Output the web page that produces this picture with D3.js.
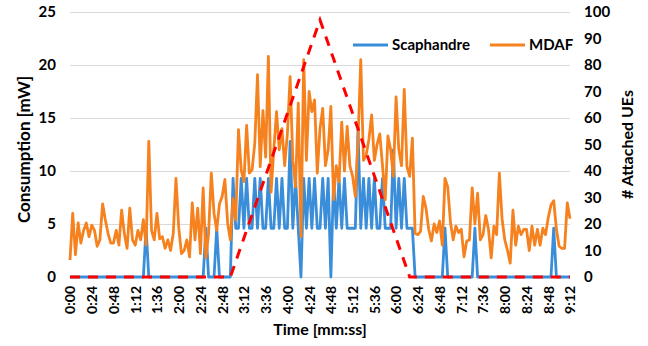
<!DOCTYPE html>
<html>
<head>
<meta charset="utf-8">
<script src="https://cdn.jsdelivr.net/npm/d3@7"></script>
<style>
  body { margin: 0; background: #fff; }
  text { font-family: Lato, "Open Sans", sans-serif; font-weight: bold; fill: #000; }
</style>
</head>
<body>
<svg id="chart"></svg>
<script>
// samples every 3 s, labels every 24 s
const tickLabels = ['0:00','0:24','0:48','1:12','1:36','2:00','2:24','2:48','3:12','3:36','4:00','4:24',
  '4:48','5:12','5:36','6:00','6:24','6:48','7:12','7:36','8:00','8:24','8:48','9:12'];
const yTicks = [0, 5, 10, 15, 20, 25];
const y2Ticks = [0, 10, 20, 30, 40, 50, 60, 70, 80, 90, 100];

const scaphandre = [
  0,0,0,0,0,0,0,0,0,0,
  0,0,0,0,0,0,0,0,0,0,
  0,0,0,0,0,0,0,0,4.6,0,
  0,0,0,0,0,0,0,0,0,0,
  0,0,0,0,0,0,0,0,0,0,
  4.6,0,0,0,4.6,0,0,0,0,0,
  9.3,4.6,4.6,9.3,4.6,9.3,4.6,4.6,9.3,4.6,
  9.3,4.6,4.6,9.3,4.6,4.6,9.3,4.6,9.3,4.6,
  4.6,12.8,4.6,9.3,4.6,0,9.3,4.6,9.3,4.6,
  9.3,4.6,4.6,9.3,4.6,9.3,0,9.3,4.6,9.3,
  4.6,9.3,4.6,4.6,4.6,4.6,13.9,4.6,9.3,4.6,
  9.3,4.6,9.3,4.6,4.6,9.3,4.6,4.6,4.6,12.0,
  4.6,9.3,4.6,9.3,4.6,4.6,4.6,0,0,0,
  0,0,0,0,0,0,0,0,4.6,0,
  0,0,0,0,0,0,0,0,0,4.6,
  0,0,0,0,0,0,0,0,0,0,
  0,0,0,0,0,0,0,0,0,0,
  0,0,0,0,0,0,0,0,4.6,0,
  0,0,0,0,0
];

const mdaf = [
  1.6,6.0,2.1,5.1,3.2,4.4,5.1,3.8,4.9,4.4,
  2.9,3.5,6.9,5.4,4.1,3.2,3.2,4.4,3.0,6.3,
  4.1,2.7,6.5,3.5,3.0,4.4,3.5,5.4,3.0,12.8,
  4.4,3.5,6.0,3.6,3.8,2.7,3.5,2.5,4.1,9.3,
  4.7,2.2,2.5,3.5,1.9,7.0,3.5,6.5,2.2,8.4,
  1.8,4.1,9.8,6.0,4.4,6.9,7.6,9.2,5.1,3.5,
  7.4,5.4,13.9,10.1,9.0,14.3,9.8,10.1,12.6,19.1,
  10.4,15.7,11.3,20.8,8.0,12.0,15.6,12.0,14.0,10.5,
  13.5,18.9,11.0,8.5,16.4,3.8,20.5,11.0,17.5,15.6,
  16.7,9.8,14.0,15.9,10.5,12.0,16.1,7.3,10.5,9.0,
  14.6,10.0,14.2,10.5,9.5,7.6,13.0,20.5,11.0,11.5,
  13.0,15.3,11.0,12.5,13.5,10.5,7.3,13.3,12.0,9.5,
  17.0,12.0,10.5,17.7,10.4,9.5,13.1,4.1,4.0,4.3,
  7.6,6.5,4.5,3.4,5.0,4.2,5.3,3.0,9.3,8.5,
  5.2,3.5,4.8,4.2,4.5,1.9,3.4,3.5,8.4,5.0,
  7.9,3.5,4.0,5.8,4.5,1.8,4.8,4.0,9.8,5.5,
  3.5,2.5,1.3,6.3,3.0,4.8,4.0,4.5,4.5,2.5,
  4.8,3.0,4.5,3.0,4.6,4.0,5.6,6.8,7.2,4.5,
  2.9,2.7,2.7,7.0,5.5
];

// attached UEs, given at the sample index where the ramp changes
const ueIndex = [0, 59, 92, 125, 184];
const ueCount = [0, 0, 97, 0, 0];

const width = 648;
const height = 346;
const margin = {top: 12, right: 78, bottom: 69, left: 70};
const w = width - margin.left - margin.right;
const h = height - margin.top - margin.bottom;

const svg = d3.select('#chart').attr('width', width).attr('height', height);
const g = svg.append('g').attr('transform', 'translate(' + margin.left + ',' + margin.top + ')');

const x = d3.scaleLinear().domain([0, scaphandre.length - 1]).range([0, w]);
const y = d3.scaleLinear().domain([0, 25]).range([h, 0]);
const y2 = d3.scaleLinear().domain([0, 100]).range([h, 0]);

// gridlines
g.append('g')
  .call(d3.axisLeft(y).tickValues(yTicks).tickSize(-w).tickFormat(''))
  .call(a => a.select('.domain').remove())
  .selectAll('line').attr('stroke', '#d9d9d9').attr('stroke-width', 1);

// left axis
g.append('g')
  .call(d3.axisLeft(y).tickValues(yTicks).tickSize(0).tickPadding(14))
  .call(a => a.select('.domain').remove())
  .selectAll('text').style('font-size', '15px');

// right axis
g.append('g')
  .attr('transform', 'translate(' + w + ',0)')
  .call(d3.axisRight(y2).tickValues(y2Ticks).tickSize(0).tickPadding(14))
  .call(a => a.select('.domain').remove())
  .selectAll('text').style('font-size', '15px');

// bottom axis, rotated labels
g.append('g')
  .attr('transform', 'translate(0,' + h + ')')
  .call(d3.axisBottom(x).tickValues(tickLabels.map((d, i) => i * 8)).tickSize(0)
    .tickFormat((d, i) => tickLabels[i]))
  .call(a => a.select('.domain').remove())
  .selectAll('text')
    .style('font-size', '14px')
    .attr('text-anchor', 'end')
    .attr('transform', 'rotate(-90)')
    .attr('x', -9)
    .attr('y', 0)
    .attr('dy', '0.35em');

const line = d3.line().x((d, i) => x(i)).y(d => y(d));

g.append('path')
  .datum(scaphandre)
  .attr('fill', 'none')
  .attr('stroke', '#3a8dd8')
  .attr('stroke-width', 2.8)
  .attr('stroke-linejoin', 'round')
  .attr('d', line);

g.append('path')
  .datum(mdaf)
  .attr('fill', 'none')
  .attr('stroke', '#f5821f')
  .attr('stroke-width', 2.8)
  .attr('stroke-linejoin', 'round')
  .attr('d', line);

const ueLine = d3.line().x(d => x(d[0])).y(d => y2(d[1]));
g.append('path')
  .datum(ueIndex.map((d, i) => [d, ueCount[i]]))
  .attr('fill', 'none')
  .attr('stroke', '#ff0000')
  .attr('stroke-width', 3)
  .attr('stroke-dasharray', '10,8')
  .attr('d', ueLine);

// legend
const legend = [
  {name: 'Scaphandre', color: '#3a8dd8', x: 283},
  {name: 'MDAF', color: '#f5821f', x: 420}
];
legend.forEach(function(l) {
  g.append('line')
    .attr('x1', l.x).attr('x2', l.x + 35)
    .attr('y1', 33).attr('y2', 33)
    .attr('stroke', l.color).attr('stroke-width', 2.8);
  g.append('text')
    .attr('x', l.x + 39).attr('y', 33).attr('dy', '0.35em')
    .style('font-size', '15px')
    .text(l.name);
});

// axis titles
svg.append('text')
  .attr('transform', 'translate(24,' + (margin.top + h / 2 + 5) + ') rotate(-90)')
  .attr('text-anchor', 'middle').attr('dy', '0.35em')
  .style('font-size', '17px')
  .text('Consumption [mW]');

svg.append('text')
  .attr('transform', 'translate(627,' + (margin.top + h / 2) + ') rotate(-90)')
  .attr('text-anchor', 'middle').attr('dy', '0.35em')
  .style('font-size', '16px')
  .text('# Attached UEs');

svg.append('text')
  .attr('x', margin.left + w / 2).attr('y', 335)
  .attr('text-anchor', 'middle')
  .style('font-size', '16px')
  .text('Time [mm:ss]');
</script>
</body>
</html>
